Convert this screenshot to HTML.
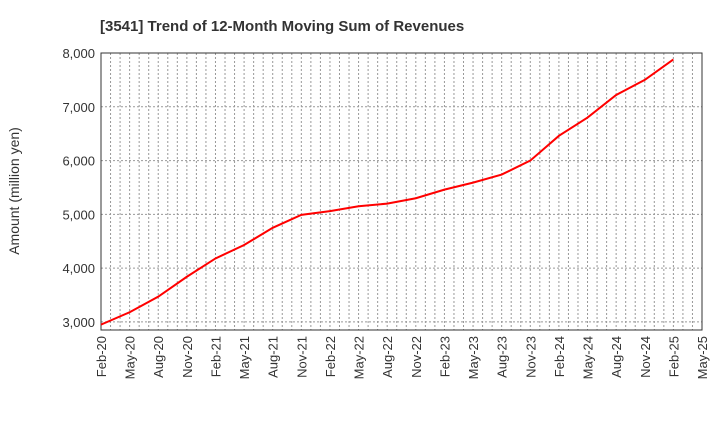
<!DOCTYPE html>
<html><head><meta charset="utf-8"><style>
body{margin:0;background:#fff;font-family:"Liberation Sans",sans-serif;}
</style></head><body>
<svg id="c" width="720" height="440" xmlns="http://www.w3.org/2000/svg" font-family="Liberation Sans, sans-serif"></svg>
<script>
const categories=["Feb-20","May-20","Aug-20","Nov-20","Feb-21","May-21","Aug-21","Nov-21","Feb-22","May-22","Aug-22","Nov-22","Feb-23","May-23","Aug-23","Nov-23","Feb-24","May-24","Aug-24","Nov-24","Feb-25","May-25"];
const revenues=[2950,3180,3470,3840,4180,4430,4750,4990,5060,5150,5200,5300,5460,5590,5740,6000,6460,6800,7220,7500,7880];
const yTicks=[3000,4000,5000,6000,7000,8000];
const L=101,R=702,T=53,B=330,yMin=2850,yMax=8000;
const svg=document.getElementById('c');const NS="http://www.w3.org/2000/svg";
function x(i){return L+(R-L)*i/(categories.length-1);}
function y(v){return B-(v-yMin)/(yMax-yMin)*(B-T);}
function mk(t,a,p){const e=document.createElementNS(NS,t);for(const k in a)e.setAttribute(k,a[k]);(p||svg).appendChild(e);return e;}
let t=mk('text',{x:100,y:31,'font-size':15,'font-weight':'bold',fill:'#333'});t.textContent="[3541]  Trend of 12-Month Moving Sum of Revenues";


const grid=mk('g',{});


const nMonths=(categories.length-1)*3;
for(let m=1;m<nMonths;m++){const xx=L+(R-L)*m/nMonths;mk('line',{x1:xx,x2:xx,y1:T,y2:B,stroke:'#999','stroke-dasharray':'2,2'},grid);}
yTicks.forEach(v=>{mk('line',{x1:L,x2:R,y1:y(v),y2:y(v),stroke:'#999','stroke-dasharray':'2,2'},grid);
const tx=mk('text',{x:L-6,y:y(v)+5,'font-size':13,'text-anchor':'end',fill:'#333'});tx.textContent=v.toLocaleString('en-US');

});
categories.forEach((c,i)=>{const tx=mk('text',{transform:`translate(${x(i)+5},${B+6}) rotate(-90)`,'font-size':13,'text-anchor':'end',fill:'#333'});tx.textContent=c;

});
const yt=mk('text',{transform:'translate(19,191) rotate(-90)','font-size':14,'text-anchor':'middle',fill:'#333'});yt.textContent="Amount (million yen)";


const fr=mk('rect',{x:L,y:T,width:R-L,height:B-T,fill:'none',stroke:'#333','stroke-width':1});


const ln=mk('polyline',{points:revenues.map((v,i)=>x(i)+','+y(v)).join(' '),fill:'none',stroke:'#f00','stroke-width':2});


</script>
</body></html>
